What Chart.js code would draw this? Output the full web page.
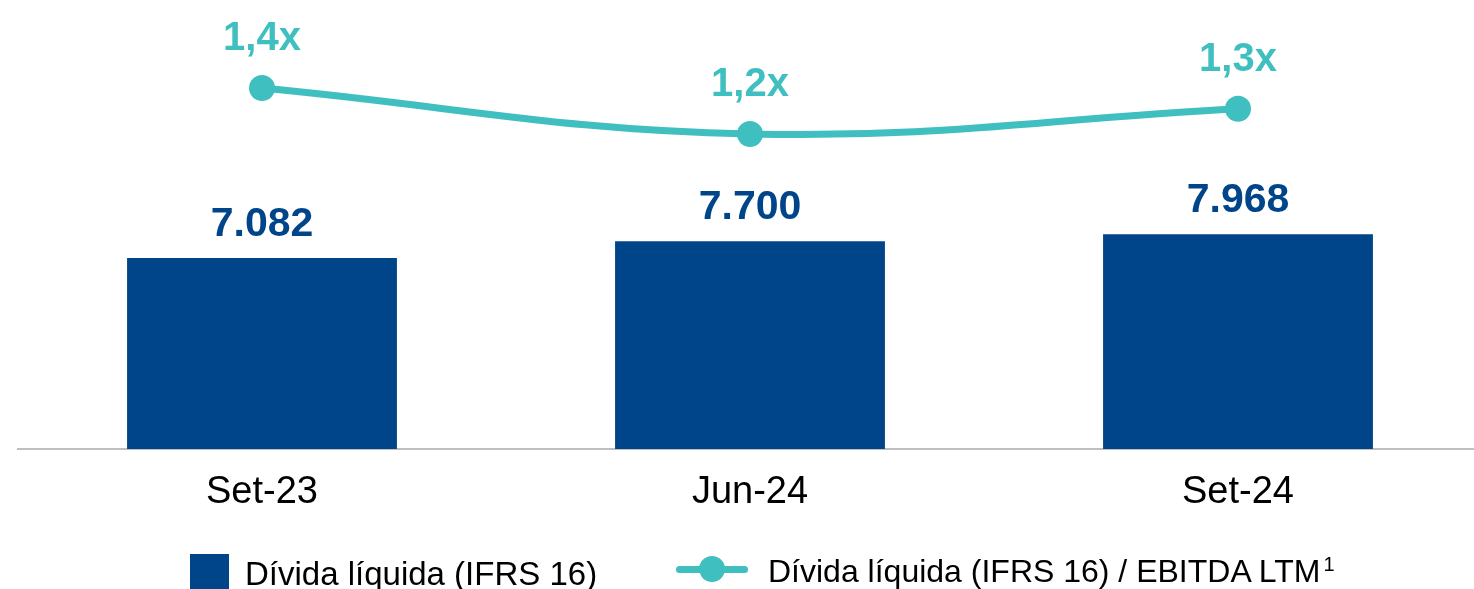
<!DOCTYPE html>
<html>
<head>
<meta charset="utf-8">
<script src="https://cdn.jsdelivr.net/npm/chart.js@4"></script>
<style>
  html, body { margin: 0; padding: 0; background: #fff; overflow: hidden; }
  body { width: 1474px; height: 589px; position: relative; font-family: "Liberation Sans", Arial, sans-serif; }
  #wrap { position: absolute; left: 0; top: 0; width: 1484px; height: 589px; }
  .leg { position: absolute; font-size: 33px; line-height: 33px; color: #000; white-space: nowrap; }
  .sq { position: absolute; left: 190px; top: 554px; width: 39px; height: 39px; background: #004589; }
  .ln { position: absolute; left: 676px; top: 566px; width: 72px; height: 7px; border-radius: 4px; background: #3FBFBF; }
  .dot { position: absolute; left: 699px; top: 556px; width: 26px; height: 26px; border-radius: 50%; background: #3FBFBF; }
  sup { font-size: 20px; position: relative; top: -7px; vertical-align: top; margin-left: 3px; }
</style>
</head>
<body>
<div id="wrap"><canvas id="c" width="1484" height="589"></canvas></div>
<div class="sq"></div>
<div class="leg" style="left:245px; top:557px;">Dívida líquida (IFRS 16)</div>
<div class="ln"></div><div class="dot"></div>
<div class="leg" style="left:768px; top:555px; font-size:32px; line-height:32px;">Dívida líquida (IFRS 16) / EBITDA LTM<sup>1</sup></div>
<script>
const categories = ["Set-23", "Jun-24", "Set-24"];
const netDebt = [7082, 7700, 7968];
const leverage = [1.4, 1.2, 1.31];
const barLabel = "Dívida líquida (IFRS 16)";
const lineLabel = "Dívida líquida (IFRS 16) / EBITDA LTM¹";

const BLUE = "#004589";
const TEAL = "#3FBFBF";

const fmtDebt = v => v.toLocaleString("de-DE");
const fmtLev = v => v.toFixed(1).replace(".", ",") + "x";

const labelPlugin = {
  id: "valueLabels",
  afterDatasetsDraw(chart) {
    const ctx = chart.ctx;
    ctx.save();
    ctx.textAlign = "center";
    ctx.textBaseline = "alphabetic";
    const barMeta = chart.getDatasetMeta(1);
    ctx.font = "bold 41px 'Liberation Sans', Arial, sans-serif";
    ctx.fillStyle = BLUE;
    barMeta.data.forEach((el, i) => {
      ctx.fillText(fmtDebt(netDebt[i]), el.x, el.y - 22);
    });
    const lineMeta = chart.getDatasetMeta(0);
    ctx.font = "bold 40px 'Liberation Sans', Arial, sans-serif";
    ctx.fillStyle = TEAL;
    lineMeta.data.forEach((el, i) => {
      ctx.fillText(fmtLev(leverage[i]), el.x, el.y - 38);
    });
    ctx.restore();
  }
};

new Chart(document.getElementById("c"), {
  data: {
    labels: categories,
    datasets: [
      {
        type: "line",
        label: lineLabel,
        data: leverage,
        yAxisID: "y1",
        borderColor: TEAL,
        backgroundColor: TEAL,
        borderWidth: 7,
        pointRadius: 13,
        pointHoverRadius: 13,
        pointBackgroundColor: TEAL,
        pointBorderWidth: 0,
        tension: 0.4,
        clip: false,
        order: 0
      },
      {
        type: "bar",
        label: barLabel,
        data: netDebt,
        yAxisID: "y",
        backgroundColor: BLUE,
        categoryPercentage: 1,
        barPercentage: 0.553,
        order: 1
      }
    ]
  },
  options: {
    responsive: false,
    animation: false,
    events: [],
    layout: { autoPadding: false, padding: { left: 18, right: 2, top: 0, bottom: 0 } },
    plugins: { legend: { display: false }, tooltip: { enabled: false } },
    scales: {
      x: {
        grid: { display: false, drawTicks: false },
        border: { display: true, color: "#BFBFBF", width: 2 },
        ticks: {
          color: "#000",
          font: { family: "'Liberation Sans', Arial, sans-serif", size: 38 },
          padding: 21
        },
        afterFit(axis) { axis.height = 140; }
      },
      y: {
        display: false,
        min: 0,
        max: 16650
      },
      y1: {
        display: false,
        position: "right",
        min: -0.17,
        max: 1.783
      }
    }
  },
  plugins: [labelPlugin]
});
</script>
</body>
</html>
